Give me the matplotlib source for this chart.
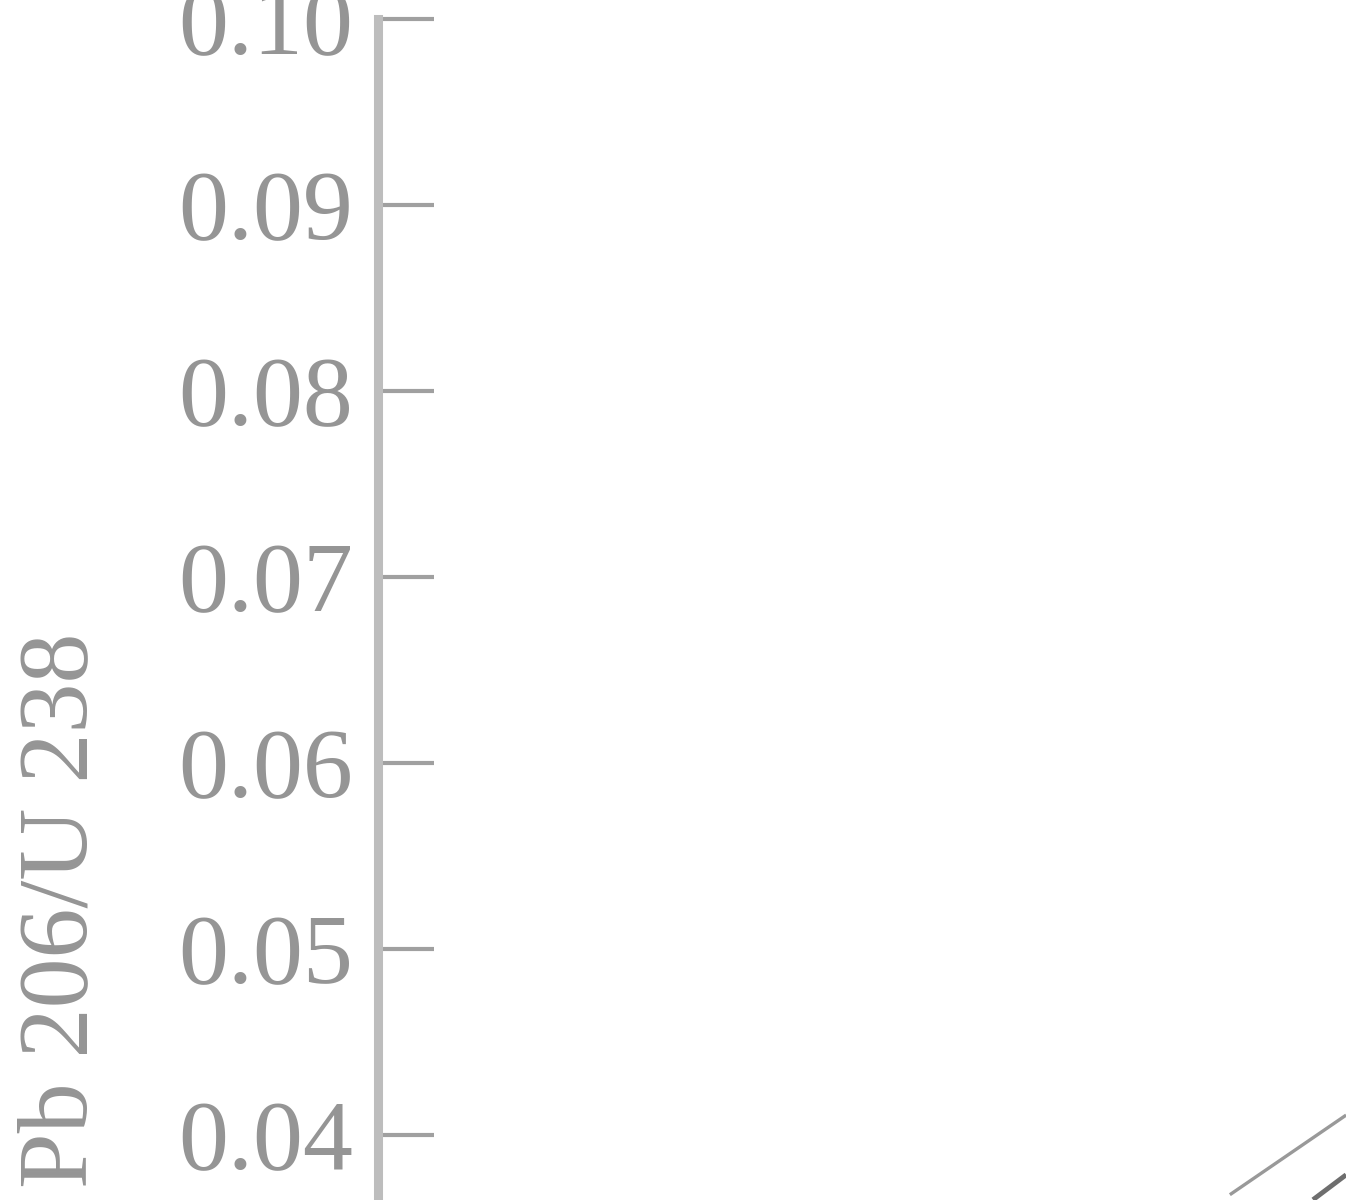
import matplotlib
matplotlib.use("Agg")
import matplotlib.pyplot as plt

# Data
y_ticks = [0.04, 0.05, 0.06, 0.07, 0.08, 0.09, 0.10]
y_tick_labels = ["0.04", "0.05", "0.06", "0.07", "0.08", "0.09", "0.10"]
y_label = "Pb 206/U 238"
line1_x = [0.2726, 0.3098]
line1_y = [0.03679, 0.04107]
line2_x = [0.2992, 0.3098]
line2_y = [0.03652, 0.03786]

W, H = 1346, 1200
fig = plt.figure(figsize=(W / 100, H / 100), dpi=100)
# axes extends beyond figure on right and bottom (zoomed crop)
left_px, top_px, width_px = 378, 19, 1000
ymin, ymax = 0.03, 0.10
px_per_unit = 186.0 / 0.01
height_px = (ymax - ymin) * px_per_unit
bottom_px = top_px + height_px
ax = fig.add_axes([left_px / W, (H - bottom_px) / H, width_px / W, height_px / H])
ax.set_xlim(0, 0.32)
ax.set_ylim(ymin, ymax)

ax.plot(line1_x, line1_y, color="#999999", lw=2.4, solid_capstyle="butt")
ax.plot(line2_x, line2_y, color="#6e6e6e", lw=3.5, solid_capstyle="butt")

for s in ["top", "right", "bottom"]:
    ax.spines[s].set_visible(False)
ax.spines["left"].set_color("#bdbdbd")
ax.spines["left"].set_linewidth(6.5)
ax.spines["left"].set_bounds(ymin, ymax)

ax.set_xticks([])
ax.set_yticks(y_ticks)
ax.set_yticklabels(y_tick_labels, fontfamily="Liberation Serif", fontsize=72, color="#959595")
ax.tick_params(axis="y", direction="in", length=40, width=3, color="#a0a0a0", pad=18)

fig.text(62 / W, 1 - 910 / H, y_label, rotation=90, ha="center", va="center",
         fontfamily="Liberation Serif", fontsize=72, color="#959595")

fig.savefig("out.png", dpi=100, facecolor="white")
